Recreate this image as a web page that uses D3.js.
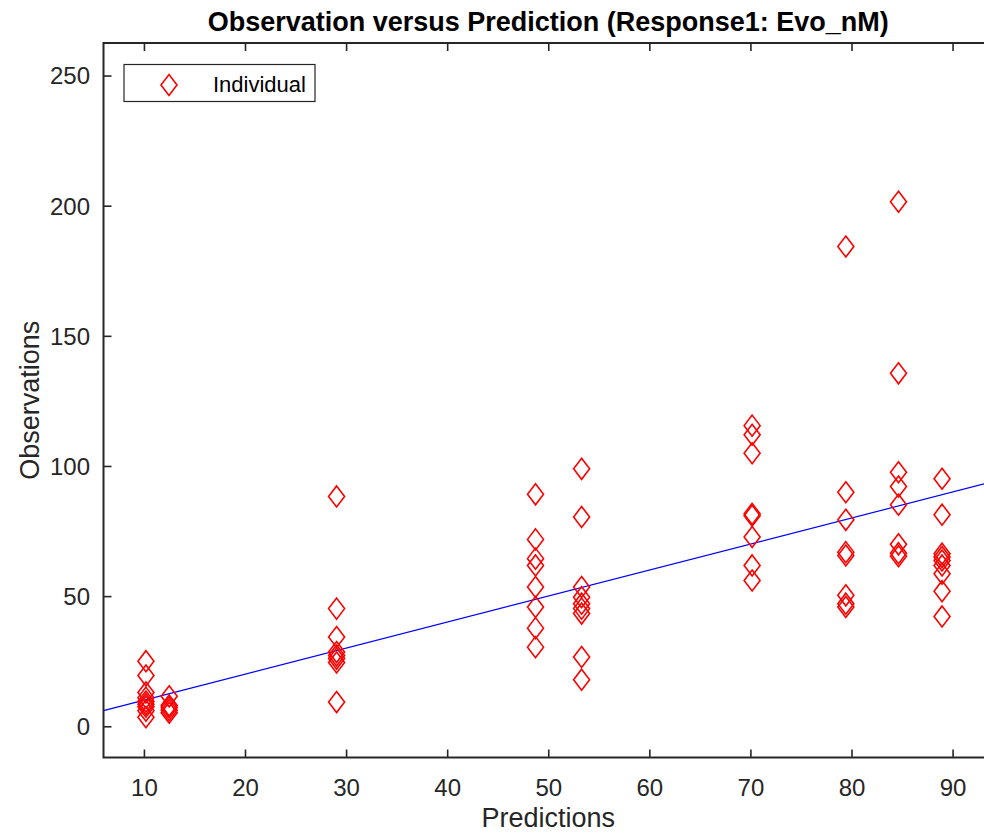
<!DOCTYPE html>
<html>
<head>
<meta charset="utf-8">
<script src="https://cdn.jsdelivr.net/npm/d3@7"></script>
<style>
  html, body { margin: 0; padding: 0; background: #fff; }
  svg { display: block; font-family: "Liberation Sans", Arial, Helvetica, sans-serif; }
</style>
</head>
<body>
<svg id="chart" width="984" height="834"></svg>
<script>
// Predicted value for each group of subjects
const predictions = [10.2, 12.5, 29.06, 48.74, 53.3, 70.17, 79.44, 84.65, 88.96];

// Observed values at each prediction
const observations = [
  [25.0, 19.5, 13.0, 11.0, 9.5, 8.5, 7.5, 6.0, 3.5],
  [11.5, 8.0, 7.2, 6.2, 5.2],
  [88.3, 45.2, 34.3, 28.5, 27.2, 26.0, 24.5, 9.3],
  [89.1, 71.8, 64.4, 61.8, 53.5, 45.8, 37.7, 30.4],
  [98.9, 80.4, 53.5, 49.6, 47.1, 45.2, 43.3, 26.6, 17.9],
  [115.5, 112.0, 104.9, 81.6, 80.9, 72.7, 61.8, 56.0],
  [184.3, 89.9, 79.3, 66.9, 65.6, 50.3, 47.1, 45.8],
  [201.5, 135.6, 97.6, 92.1, 85.1, 69.9, 66.5, 65.3],
  [95.1, 81.3, 66.3, 65.0, 63.7, 61.8, 58.6, 51.9, 42.2]
];

const xTicks = [10, 20, 30, 40, 50, 60, 70, 80, 90];
const yTicks = [0, 50, 100, 150, 200, 250];
const xLimits = [6, 94];
const yLimits = [-12, 262.5];

const titleText = "Observation versus Prediction (Response1: Evo_nM)";
const xLabel = "Predictions";
const yLabel = "Observations";
const legendLabel = "Individual";

const points = [];
predictions.forEach((p, i) => observations[i].forEach(o => points.push({ pred: p, obs: o })));

const svg = d3.select("#chart");
const plotLeft = 103.5, plotRight = 993, plotTop = 43, plotBottom = 757.5;
const axisColor = "#262626";

const x = d3.scaleLinear().domain(xLimits).range([plotLeft, plotRight]);
const y = d3.scaleLinear().domain(yLimits).range([plotBottom, plotTop]);

svg.append("defs").append("clipPath").attr("id", "plotClip")
  .append("rect").attr("x", plotLeft).attr("y", plotTop)
  .attr("width", plotRight - plotLeft).attr("height", plotBottom - plotTop);

// Axes with inward ticks on all four sides
function styleAxis(g) {
  g.select(".domain").remove();
  g.selectAll(".tick line").attr("stroke", axisColor).attr("stroke-width", 1.6);
  g.selectAll("text").attr("fill", axisColor).attr("font-size", 24);
}

const gx = svg.append("g").attr("transform", `translate(0,${plotBottom})`)
  .call(d3.axisBottom(x).tickValues(xTicks).tickSize(-8).tickFormat(d3.format("d")))
  .call(styleAxis);
gx.selectAll("text").attr("y", 38).attr("dy", 0);

svg.append("g").attr("transform", `translate(0,${plotTop})`)
  .call(d3.axisTop(x).tickValues(xTicks).tickSize(-8).tickFormat(""))
  .call(styleAxis);

const gy = svg.append("g").attr("transform", `translate(${plotLeft},0)`)
  .call(d3.axisLeft(y).tickValues(yTicks).tickSize(-8).tickFormat(d3.format("d")))
  .call(styleAxis);
gy.selectAll("text").attr("x", -13.5).attr("dy", "0.35em");

svg.append("g").attr("transform", `translate(${plotRight},0)`)
  .call(d3.axisRight(y).tickValues(yTicks).tickSize(-8).tickFormat(""))
  .call(styleAxis);

// Plot box
svg.append("rect")
  .attr("x", plotLeft).attr("y", plotTop)
  .attr("width", plotRight - plotLeft).attr("height", plotBottom - plotTop)
  .attr("fill", "none").attr("stroke", axisColor).attr("stroke-width", 2);

const plot = svg.append("g").attr("clip-path", "url(#plotClip)");

// Line of identity (observation = prediction)
plot.append("line")
  .attr("x1", x(xLimits[0])).attr("y1", y(xLimits[0]))
  .attr("x2", x(xLimits[1])).attr("y2", y(xLimits[1]))
  .attr("stroke", "#0000ff").attr("stroke-width", 1.2);

const hw = 8, hh = 10.5;
const diamond = `M0,${-hh}L${hw},0L0,${hh}L${-hw},0Z`;

plot.selectAll("path.obs")
  .data(points)
  .join("path")
  .attr("class", "obs")
  .attr("transform", d => `translate(${x(d.pred)},${y(d.obs)})`)
  .attr("d", diamond)
  .attr("fill", "none")
  .attr("stroke", "#ff0000")
  .attr("stroke-width", 1.6);

// Title and axis labels
svg.append("text")
  .attr("x", (plotLeft + plotRight) / 2).attr("y", 31)
  .attr("text-anchor", "middle")
  .attr("font-size", 27).attr("font-weight", "bold").attr("fill", "#000")
  .text(titleText);

svg.append("text")
  .attr("x", (plotLeft + plotRight) / 2).attr("y", 827)
  .attr("text-anchor", "middle")
  .attr("font-size", 27).attr("fill", axisColor)
  .text(xLabel);

svg.append("text")
  .attr("transform", `translate(39,${(plotTop + plotBottom) / 2}) rotate(-90)`)
  .attr("text-anchor", "middle")
  .attr("font-size", 27).attr("fill", axisColor)
  .text(yLabel);

// Legend
const lg = svg.append("g");
lg.append("rect")
  .attr("x", 124).attr("y", 64.5).attr("width", 191).attr("height", 37)
  .attr("fill", "#fff").attr("stroke", axisColor).attr("stroke-width", 1.2);
lg.append("path")
  .attr("transform", "translate(169,85)")
  .attr("d", diamond)
  .attr("fill", "none").attr("stroke", "#ff0000").attr("stroke-width", 1.6);
lg.append("text")
  .attr("x", 213).attr("y", 92)
  .attr("font-size", 22).attr("fill", "#000")
  .text(legendLabel);
</script>
</body>
</html>
